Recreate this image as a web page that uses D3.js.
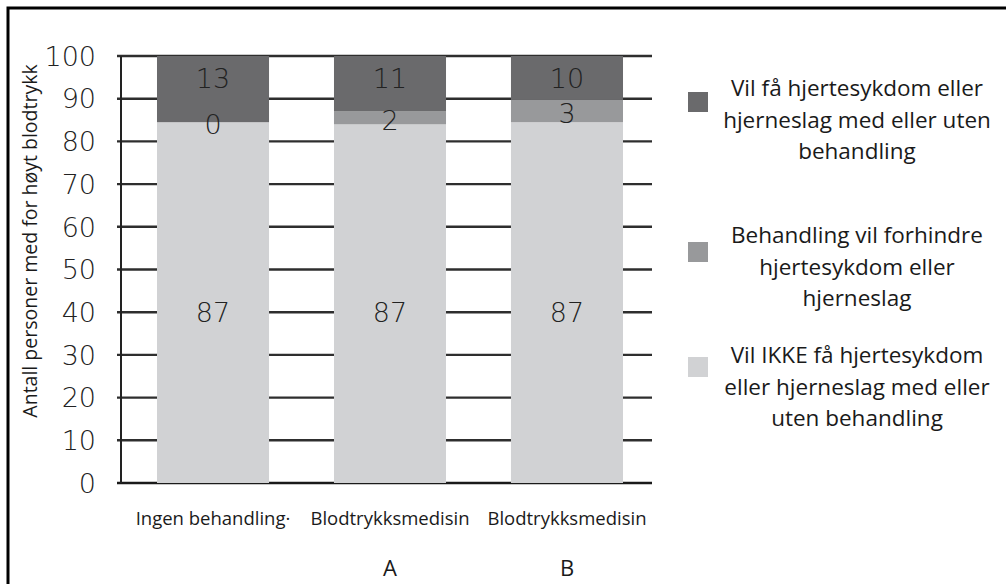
<!DOCTYPE html>
<html>
<head>
    <meta charset="utf-8">
    <title>Blodtrykk stablet søyle</title>
    <script type="text/javascript" src="https://cdn.jsdelivr.net/npm/d3@7"></script>
    <style type="text/css">
        html, body { margin: 0; padding: 0; background: #fff; }
        svg { display: block; }
        .num { font-family: "DejaVu Sans", Lato, sans-serif; font-weight: 200; fill: #222; }
        .txt { font-family: "Open Sans", sans-serif; fill: #1a1a1a; }
    </style>
</head>
<body>
<script type="text/javascript">
    // data
    var categories = ["Ingen behandling·", "Blodtrykksmedisin", "Blodtrykksmedisin"];
    var subLabels = ["", "A", "B"];
    var seriesKeys = ["ikke", "forhindre", "vil"];
    // segment heights as drawn in the picture
    var ikkeValues = [84.5, 84, 84.5];
    var forhindreValues = [0, 3, 5.2];
    var vilValues = [15.5, 13, 10.3];
    // numbers printed on the bars
    var ikkeLabels = [87, 87, 87];
    var forhindreLabels = [0, 2, 3];
    var vilLabels = [13, 11, 10];
    var yTicks = [0, 10, 20, 30, 40, 50, 60, 70, 80, 90, 100];
    var legendLines = {
        vil: ["Vil få hjertesykdom eller", "hjerneslag med eller uten", "behandling"],
        forhindre: ["Behandling vil forhindre", "hjertesykdom eller", "hjerneslag"],
        ikke: ["Vil IKKE få hjertesykdom", "eller hjerneslag med eller", "uten behandling"]
    };
    var colors = { ikke: "#d1d2d4", forhindre: "#98999b", vil: "#6a6a6c" };

    var width = 1006, height = 584;
    var svg = d3.select("body").append("svg")
        .attr("width", width).attr("height", height);

    // frame (only top/left visible in the picture)
    svg.append("rect")
        .attr("x", 8).attr("y", 8)
        .attr("width", width + 20).attr("height", height + 20)
        .attr("fill", "none").attr("stroke", "#000").attr("stroke-width", 3);

    var rows = categories.map(function (c, i) {
        return { i: i, ikke: ikkeValues[i], forhindre: forhindreValues[i], vil: vilValues[i] };
    });

    var x = d3.scaleBand().domain(d3.range(categories.length))
        .range([121.6, 658.4]).paddingInner(0.367).paddingOuter(0.2);
    var y = d3.scaleLinear().domain([0, 100]).range([483, 56]);

    var axisLeft = 121, axisRight = 652;

    // gridlines + ticks
    svg.append("g").selectAll("line").data(yTicks).enter().append("line")
        .attr("x1", axisLeft - 4).attr("x2", axisRight)
        .attr("y1", function (d) { return y(d); })
        .attr("y2", function (d) { return y(d); })
        .attr("stroke", function (d) { return d === 0 ? "#1a1a1a" : "#2e2e2e"; })
        .attr("stroke-width", 2.4);

    svg.append("line")
        .attr("x1", axisLeft).attr("x2", axisLeft)
        .attr("y1", y(100)).attr("y2", y(0))
        .attr("stroke", "#222").attr("stroke-width", 2);

    svg.append("g").selectAll("text").data(yTicks).enter().append("text")
        .attr("class", "num")
        .attr("x", 96).attr("y", function (d) { return y(d); })
        .attr("dy", "0.36em")
        .attr("text-anchor", "end")
        .style("font-size", "27px")
        .text(function (d) { return d; });

    // stacked bars
    var stack = d3.stack().keys(seriesKeys);
    var layers = stack(rows);

    svg.append("g").selectAll("g").data(layers).enter().append("g")
        .attr("fill", function (d) { return colors[d.key]; })
        .selectAll("rect").data(function (d) { return d; }).enter().append("rect")
        .attr("x", function (d) { return x(d.data.i); })
        .attr("width", x.bandwidth())
        .attr("y", function (d) { return y(d[1]); })
        .attr("height", function (d) { return y(d[0]) - y(d[1]); });

    // bar labels
    var lab = svg.append("g").attr("class", "num").style("font-size", "27px").attr("text-anchor", "middle");
    layers.forEach(function (layer) {
        layer.forEach(function (d, i) {
            var cx = x(i) + x.bandwidth() / 2, cy, t;
            if (layer.key === "ikke") { cy = y(40); t = ikkeLabels[i]; }
            else if (layer.key === "forhindre") { cy = (y(d[0]) + y(d[1])) / 2 + 2; t = forhindreLabels[i]; }
            else { cy = y(d[1]) + 22; t = vilLabels[i]; }
            lab.append("text").attr("x", cx).attr("y", cy).attr("dy", "0.36em").text(t);
        });
    });

    // x labels
    svg.append("g").selectAll("text").data(categories).enter().append("text")
        .attr("class", "txt")
        .attr("x", function (d, i) { return x(i) + x.bandwidth() / 2; })
        .attr("y", 525)
        .attr("text-anchor", "middle")
        .style("font-size", "18.5px")
        .text(function (d) { return d; });

    svg.append("g").selectAll("text").data(subLabels).enter().append("text")
        .attr("class", "txt")
        .attr("x", function (d, i) { return x(i) + x.bandwidth() / 2; })
        .attr("y", 576)
        .attr("text-anchor", "middle")
        .style("font-size", "22px")
        .text(function (d) { return d; });

    // y axis title
    svg.append("text")
        .attr("class", "txt")
        .attr("transform", "translate(37,241) rotate(-90)")
        .attr("text-anchor", "middle")
        .style("font-size", "19.5px")
        .text("Antall personer med for høyt blodtrykk");

    // legend
    var legendKeys = ["vil", "forhindre", "ikke"];
    var legendTop = [88, 235, 355];
    var legendSq = [92, 242, 357];
    var lg = svg.append("g");
    legendKeys.forEach(function (k, j) {
        lg.append("rect")
            .attr("x", 688).attr("y", legendSq[j])
            .attr("width", 20).attr("height", 20)
            .attr("fill", colors[k]);
        legendLines[k].forEach(function (line, li) {
            lg.append("text")
                .attr("class", "txt")
                .attr("x", 857).attr("y", legendTop[j] + li * 31.5)
                .attr("dy", "0.36em")
                .attr("text-anchor", "middle")
                .style("font-size", "22.5px")
                .text(line);
        });
    });
</script>
</body>
</html>
